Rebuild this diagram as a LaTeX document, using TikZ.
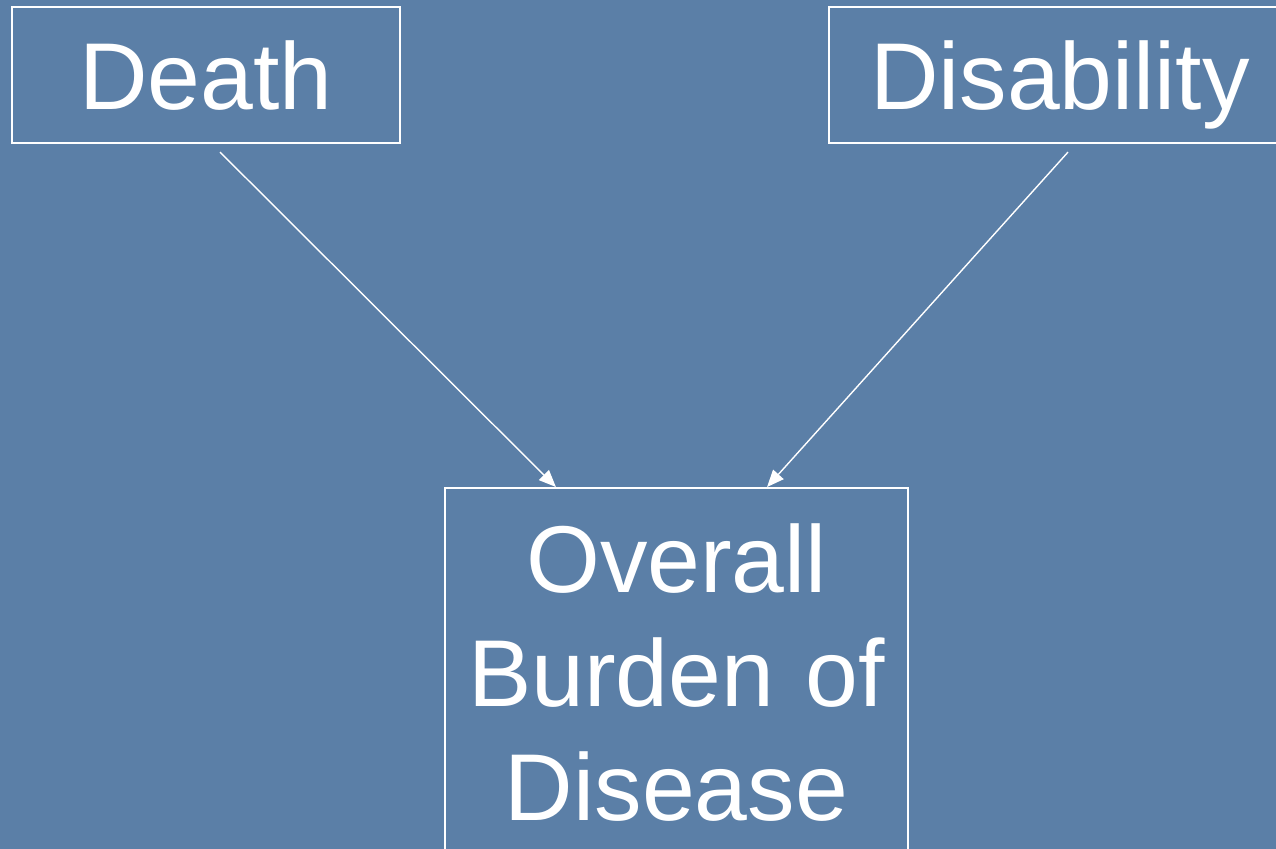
\documentclass[tikz,border=0pt]{standalone}
\usepackage{fontspec}
\setmainfont{Liberation Sans}
\definecolor{slateblue}{HTML}{5B7FA7}
\usetikzlibrary{arrows.meta,positioning,calc}

\begin{document}
\begin{tikzpicture}[x=0.01cm,y=-0.01cm,
    box/.style={draw=white,line width=0.6pt,text=white,inner sep=0pt,
        font=\fontsize{27}{32.4}\selectfont,align=center},
    link/.style={white,line width=0.4pt,-{Triangle[length=0.17cm,width=0.14cm]}}]
    \fill[slateblue] (0,0) rectangle (1276,849);
    \useasboundingbox (0,0) rectangle (1276,849);
    \node[box,text depth=0pt,minimum width=3.88cm,minimum height=1.36cm] (death) at (206,75) {Death};
    \node[box,text depth=0pt,minimum width=4.62cm,minimum height=1.36cm] (disab) at (1060,75) {Disability};
    \node[box,anchor=north,text width=4.63cm,inner ysep=0.355cm] (burden) at (676.5,487)
        {Overall\\Burden of\\Disease};
    \draw[link] ([xshift=0.14cm,yshift=-0.08cm]death.south) -- ([xshift=-1.205cm]burden.north);
    \draw[link] ([xshift=0.08cm,yshift=-0.08cm]disab.south) -- ([xshift=0.905cm]burden.north);
\end{tikzpicture}
\end{document}
